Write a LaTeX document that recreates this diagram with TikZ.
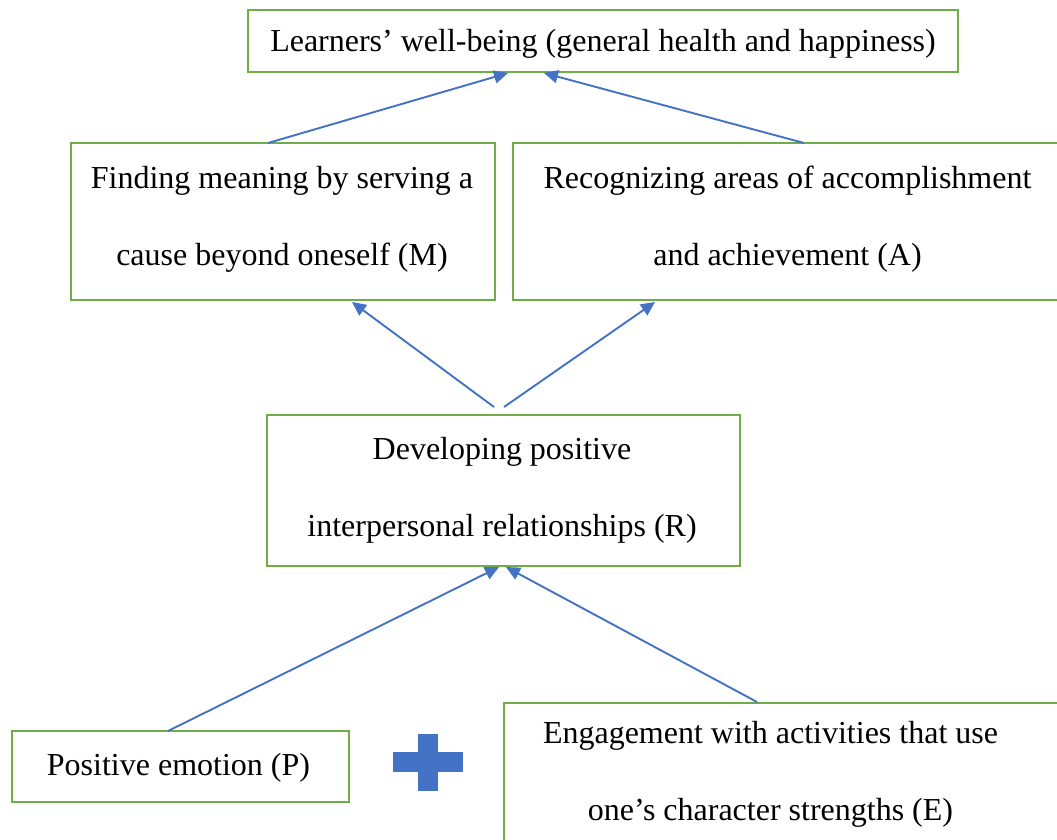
\documentclass[tikz,border=0pt]{standalone}
\usepackage{fontspec}
\setmainfont{Liberation Serif}
\usetikzlibrary{arrows.meta}
\definecolor{boxgreen}{HTML}{70AD47}
\definecolor{arrblue}{HTML}{4472C4}
\tikzset{
  box/.style={draw=boxgreen, line width=2pt, rectangle, inner sep=0pt},
  txt/.style={align=center, inner sep=0pt, font=\fontsize{32}{77}\selectfont},
  conn/.style={draw=arrblue, line width=1.9pt, -{Triangle[width=13pt,length=14pt]}}
}
\begin{document}
\begin{tikzpicture}[x=1pt,y=-1pt]
\useasboundingbox (0,0) rectangle (1057,839);
\clip (0,0) rectangle (1057,839);
\fill[white] (0,0) rectangle (1057,839);
% boxes
\node[box, minimum width=710pt, minimum height=62pt] (W) at (603,41) {};
\node[txt] (Wt) at (603,44) {Learners’ well-being (general health and happiness)};
\node[box, minimum width=424pt, minimum height=157pt] (M) at (283,221.5) {};
\node[txt] (Mt) at (282,219.5) {Finding meaning by serving a\\cause beyond oneself (M)};
\node[box, minimum width=560pt, minimum height=157pt] (A) at (793,221.5) {};
\node[txt] (At) at (787.5,219.5) {Recognizing areas of accomplishment\\and achievement (A)};
\node[box, minimum width=473pt, minimum height=151pt] (R) at (503.5,490.5) {};
\node[txt] (Rt) at (502,490.5) {Developing positive\\interpersonal relationships (R)};
\node[box, minimum width=337pt, minimum height=71pt] (P) at (180.5,766.5) {};
\node[txt] (Pt) at (178.5,767.5) {Positive emotion (P)};
\node[box, minimum width=580pt, minimum height=160pt, anchor=north west] (E) at (503,702) {};
\node[txt] (Et) at (770.5,774) {Engagement with activities that use\\one’s character strengths (E)};
% plus sign
\fill[arrblue] (393,752) rectangle (463,772);
\fill[arrblue] (418,734) rectangle (438,791);
% connector end points
\coordinate (mS) at (268,143);
\coordinate (wL) at (508,73);
\coordinate (aS) at (804,143);
\coordinate (wR) at (544,73);
\coordinate (rL) at (494,407);
\coordinate (mT) at (352,302);
\coordinate (rR) at (504,407);
\coordinate (aT) at (655,302);
\coordinate (pS) at (168,731);
\coordinate (rBL) at (499,567);
\coordinate (eS) at (757,702);
\coordinate (rBR) at (506,567);
% connectors
\draw[conn] (mS) -- (wL);
\draw[conn] (aS) -- (wR);
\draw[conn] (rL) -- (mT);
\draw[conn] (rR) -- (aT);
\draw[conn] (pS) -- (rBL);
\draw[conn] (eS) -- (rBR);
\end{tikzpicture}
\end{document}
